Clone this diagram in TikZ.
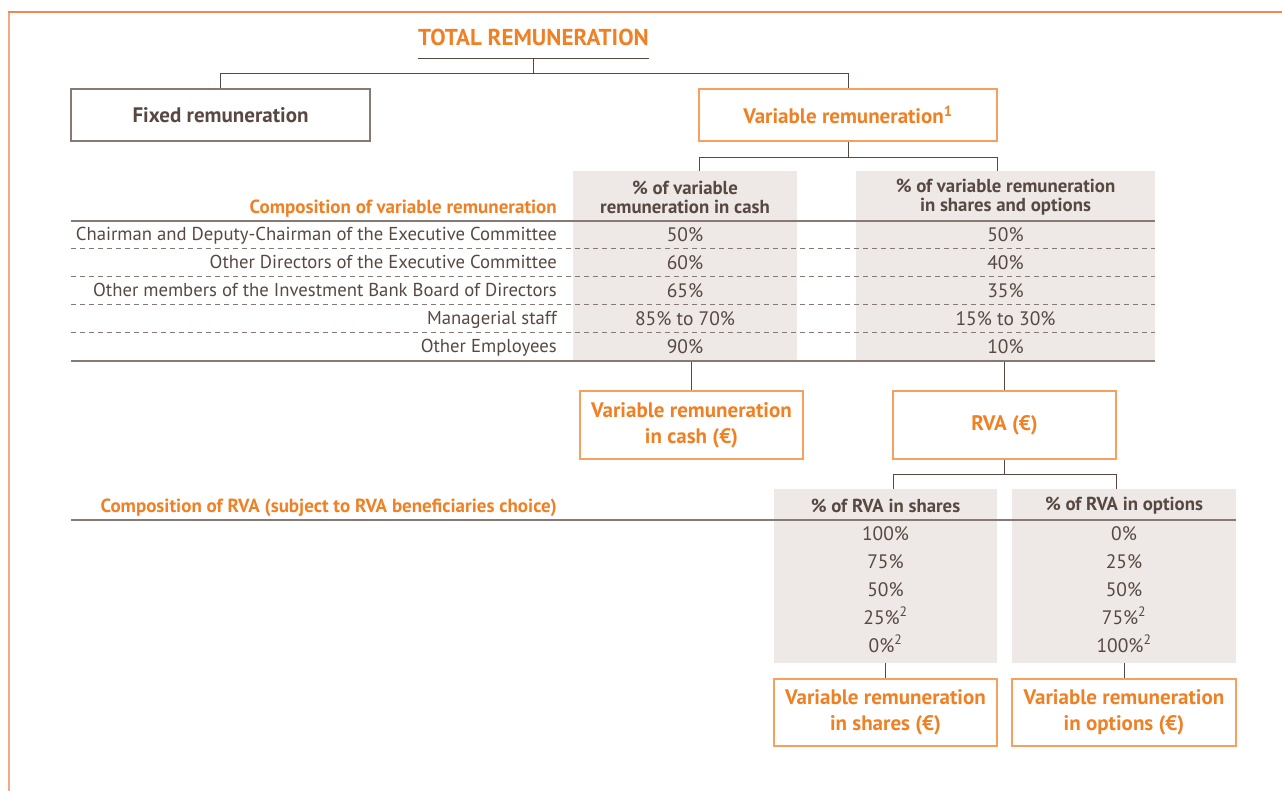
\documentclass[tikz,border=0pt]{standalone}
\usepackage{fontspec}
\setmainfont{PT Sans}
\definecolor{org}{RGB}{240,128,36}
\definecolor{orgline}{RGB}{245,160,95}
\definecolor{frametop}{RGB}{240,135,85}
\definecolor{frameleft}{RGB}{244,168,135}
\definecolor{brn}{RGB}{88,72,66}
\definecolor{rule}{RGB}{135,122,116}
\definecolor{cellgray}{RGB}{238,233,230}
\tikzset{
  obox/.style={draw=orgline, line width=1.2pt, fill=white, text=org, font=\bfseries\fontsize{21}{26}\selectfont, align=center, inner sep=0pt},
  bbox/.style={draw=rule, line width=1.2pt, fill=white, text=brn, font=\bfseries\fontsize{21}{26}\selectfont, align=center, inner sep=0pt},
  gcol/.style={fill=cellgray, draw=none, inner sep=0pt},
  hdr/.style={text=brn, font=\bfseries\fontsize{18.8}{19}\selectfont, align=center, inner sep=0pt},
  val/.style={text=brn, font=\fontsize{19.5}{20}\selectfont, inner sep=0pt, text height=13.5pt, text depth=0pt},
  lab/.style={text=brn, font=\fontsize{18.7}{20}\selectfont, inner sep=0pt, anchor=east, text height=13pt, text depth=0pt},
  olab/.style={text=org, font=\bfseries\fontsize{19}{20}\selectfont, inner sep=0pt, anchor=east, text height=13pt, text depth=0pt},
  conn/.style={draw=brn, line width=0.9pt},
  srule/.style={draw=rule, line width=1.6pt},
  drule/.style={draw=rule, line width=1pt, dash pattern=on 5pt off 4pt},
}
\begin{document}
\begin{tikzpicture}[x=1pt,y=-1pt]
\useasboundingbox (0,0) rectangle (1282,791);
% frame
\draw[frameleft, line width=2pt] (9,12) -- (9,791);
\draw[frametop, line width=1.6pt] (8,12) -- (1282,12);

% title
\node[text=org, font=\bfseries\fontsize{23}{26}\selectfont, inner sep=0pt] (total) at (533.5,37) {TOTAL REMUNERATION};
\coordinate (tu) at (533.5,58);
\draw[conn] (418,58) -- (649,58);
\coordinate (tj) at (533.5,73);

% level 1 boxes
\node[bbox, minimum width=299, minimum height=52] (fixed) at (220.5,115) {Fixed remuneration};
\node[obox, minimum width=298, minimum height=52] (var) at (848,115) {Variable remuneration\textsuperscript{1}};
\draw[conn] (tu) -- (tj) -| (fixed.north);
\draw[conn] (tj) -| (var.north);

% gray columns table 1
\node[gcol, minimum width=224, minimum height=190] (colA) at (685,266) {};
\node[gcol, minimum width=299, minimum height=190] (colB) at (1005.5,266) {};
\coordinate (vj) at (848,157);
\draw[conn] (var.south) -- (vj) -| (699,171);
\draw[conn] (vj) -| (997,171);

\node[hdr] (hA) at (685,197.5) {\% of variable\\remuneration in cash};
\node[hdr] (hB) at (1005.5,197.5) {\% of variable remuneration\\in shares and options};
\node[olab] (comp1) at (557,207) {Composition of variable remuneration};

\draw[srule] (71,221) -- (1155,221);
\foreach \yy in {249,277,305,333} \draw[drule] (71,\yy) -- (1155,\yy);
\draw[srule] (71,361) -- (1155,361);

\node[lab] (r1) at (557,234.5) {Chairman and Deputy-Chairman of the Executive Committee};
\node[lab] (r2) at (557,262.5) {Other Directors of the Executive Committee};
\node[lab] (r3) at (557,290.5) {Other members of the Investment Bank Board of Directors};
\node[lab] (r4) at (557,318.5) {Managerial staff};
\node[lab] (r5) at (557,346.5) {Other Employees};

\node[val] (a1) at (685,234.5) {50\%};
\node[val] (a2) at (685,262.5) {60\%};
\node[val] (a3) at (685,290.5) {65\%};
\node[val] (a4) at (685,318.5) {85\% to 70\%};
\node[val] (a5) at (685,346.5) {90\%};
\node[val] (b1) at (1005.5,234.5) {50\%};
\node[val] (b2) at (1005.5,262.5) {40\%};
\node[val] (b3) at (1005.5,290.5) {35\%};
\node[val] (b4) at (1005.5,318.5) {15\% to 30\%};
\node[val] (b5) at (1005.5,346.5) {10\%};

% level 3 boxes
\node[obox, minimum width=223, minimum height=68] (cash) at (691.5,425) {Variable remuneration\\in cash (€)};
\node[obox, minimum width=223, minimum height=68] (rva) at (1004.5,425) {RVA (€)};
\draw[conn] (691.5,362) -- (cash.north);
\draw[conn] (1004.5,362) -- (rva.north);

% table 2
\node[gcol, minimum width=223, minimum height=174] (colC) at (885.5,576) {};
\node[gcol, minimum width=224, minimum height=174] (colD) at (1124,576) {};
\coordinate (rj) at (1004.5,474);
\draw[conn] (rva.south) -- (rj) -| (893,489);
\draw[conn] (rj) -| (1116,489);

\node[hdr] (hC) at (885.5,506) {\% of RVA in shares};
\node[hdr] (hD) at (1124,506) {\% of RVA in options};
\node[olab] (comp2) at (557,506) {Composition of RVA (subject to RVA beneficiaries choice)};
\draw[srule] (71,520) -- (1236,520);

\node[val] (c1) at (885.5,533.5) {100\%};
\node[val] (c2) at (885.5,561.5) {75\%};
\node[val] (c3) at (885.5,589.5) {50\%};
\node[val] (c4) at (885.5,617.5) {25\%\textsuperscript{2}};
\node[val] (c5) at (885.5,645.5) {0\%\textsuperscript{2}};
\node[val] (d1) at (1124,533.5) {0\%};
\node[val] (d2) at (1124,561.5) {25\%};
\node[val] (d3) at (1124,589.5) {50\%};
\node[val] (d4) at (1124,617.5) {75\%\textsuperscript{2}};
\node[val] (d5) at (1124,645.5) {100\%\textsuperscript{2}};

\node[obox, minimum width=223, minimum height=67] (shares) at (885.5,712.5) {Variable remuneration\\in shares (€)};
\node[obox, minimum width=224, minimum height=67] (options) at (1124,712.5) {Variable remuneration\\in options (€)};
\draw[conn] (colC.south) -- (shares.north);
\draw[conn] (colD.south) -- (options.north);
\end{tikzpicture}
\end{document}
